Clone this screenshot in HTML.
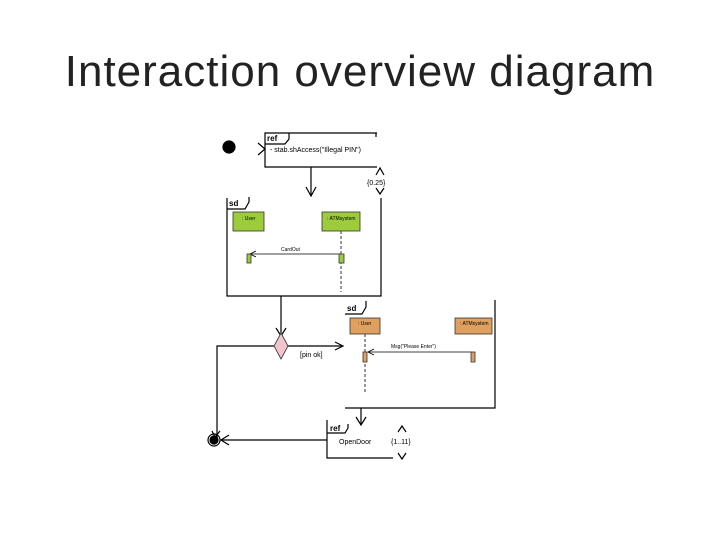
<!DOCTYPE html>
<html><head><style>
body{margin:0;background:#fff;width:720px;height:540px;overflow:hidden}
svg{position:absolute;left:0;top:0}
text{font-family:"Liberation Sans",sans-serif}
</style></head><body>
<svg width="720" height="540" viewBox="0 0 720 540">
<text x="360" y="86" font-size="44" letter-spacing="1" text-anchor="middle" fill="#222">Interaction overview diagram</text>
<g stroke="#000" stroke-width="1.2" fill="none">
<circle cx="229" cy="147" r="6" fill="#000"/>
<polyline points="258,143 265,149 258,155"/>
<polyline points="377,133 265,133 265,167 377,167"/>
<line x1="376" y1="133" x2="376" y2="137"/>
<polyline points="265,144 285,144 289,139 289,133"/>
<line x1="311" y1="167" x2="311" y2="196"/>
<polyline points="306,187 311,196 316,187"/>
<polyline points="376,175 380,168 384,175"/>
<polyline points="376,188 380,194 384,188"/>
<polyline points="227,198 227,296 381,296 381,198"/>
<polyline points="227,209 245,209 249,202 249,197"/>
<line x1="341" y1="231" x2="341" y2="292" stroke-dasharray="3,2" stroke-width="0.8"/>
<line x1="340" y1="254" x2="250" y2="254" stroke-width="0.8"/>
<polyline points="256,251 250,254 256,257" stroke-width="0.8"/>
<line x1="281" y1="296" x2="281" y2="336"/>
<polyline points="276,328 281,336 286,328"/>
<polyline points="274,346 217,346 217,440"/>
<polyline points="212,431 215,437 220,431"/>
<line x1="288" y1="346" x2="343" y2="346"/>
<polyline points="335,342 343,346 335,350"/>
<polyline points="345,408 495,408 495,300"/>
<polyline points="345,314 362,314 366,307 366,301"/>
<line x1="365" y1="334" x2="365" y2="392" stroke-dasharray="3,2" stroke-width="0.8"/>
<line x1="471" y1="352" x2="368" y2="352" stroke-width="0.8"/>
<polyline points="374,349 368,352 374,355" stroke-width="0.8"/>
<line x1="361" y1="408" x2="361" y2="425"/>
<polyline points="356,417 361,425 366,417"/>
<polyline points="327,420 327,458 393,458"/>
<polyline points="327,433 345,433 348,428 348,424"/>
<polyline points="398,432 402,426 406,432"/>
<polyline points="398,453 402,459 406,453"/>
<line x1="327" y1="440" x2="221" y2="440"/>
<polyline points="229,435 221,440 229,445"/>
<circle cx="214" cy="440" r="6"/>
<circle cx="214" cy="440" r="4" fill="#000"/>
</g>
<g stroke="#333" stroke-width="0.8">
<rect x="233" y="212" width="31" height="19" fill="#9ccc3c"/>
<rect x="322" y="212" width="38" height="19" fill="#9ccc3c"/>
<rect x="339" y="254" width="5" height="9" fill="#9ccc3c"/>
<rect x="247" y="254" width="4" height="9" fill="#9ccc3c"/>
<polygon points="281,333 288,346 281,359 274,346" fill="#f2c4cc"/>
<rect x="350" y="318" width="30" height="16" fill="#e0a060"/>
<rect x="455" y="318" width="37" height="16" fill="#e0a060"/>
<rect x="363" y="352" width="4" height="10" fill="#e0a060"/>
<rect x="471" y="352" width="4" height="10" fill="#e0a060"/>
</g>
<g font-size="7" fill="#000">
<text x="267" y="141" font-weight="bold" font-size="8">ref</text>
<text x="270" y="152">- stab.shAccess("Illegal PIN")</text>
<text x="367" y="185">{0.25}</text>
<text x="229" y="206" font-weight="bold" font-size="8">sd</text>
<text x="242" y="220" font-size="5">: User</text>
<text x="327" y="220" font-size="5">: ATMsystem</text>
<text x="281" y="251" font-size="5">CardOut</text>
<text x="300" y="357">[pin ok]</text>
<text x="347" y="311" font-weight="bold" font-size="8">sd</text>
<text x="358" y="325" font-size="5">: User</text>
<text x="460" y="325" font-size="5">: ATMsystem</text>
<text x="391" y="348" font-size="5">Msg("Please Enter")</text>
<text x="330" y="431" font-weight="bold" font-size="8">ref</text>
<text x="339" y="444">OpenDoor</text>
<text x="391" y="444">{1..11}</text>
</g>
</svg>
</body></html>
